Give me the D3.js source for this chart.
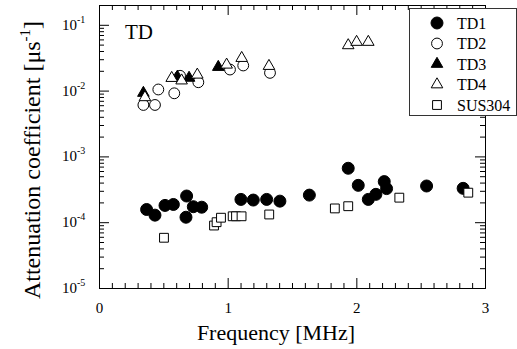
<!DOCTYPE html>
<html>
<head>
<meta charset="utf-8">
<script src="https://cdn.jsdelivr.net/npm/d3@7"></script>
<style>
  body { margin: 0; background: #fff; }
</style>
</head>
<body>
<svg id="chart" width="517" height="349"></svg>
<script>
// frequency [MHz], attenuation coefficient [1/us]
const td1 = [
  [0.37, 1.56e-4], [0.435, 1.28e-4], [0.513, 1.8e-4], [0.578, 1.86e-4],
  [0.681, 2.5e-4], [0.676, 1.19e-4], [0.733, 1.72e-4], [0.798, 1.69e-4],
  [1.103, 2.22e-4], [1.199, 2.17e-4], [1.303, 2.22e-4], [1.406, 2.09e-4],
  [1.635, 2.58e-4], [1.937, 6.6e-4], [2.015, 3.63e-4], [2.093, 2.22e-4],
  [2.152, 2.65e-4], [2.217, 4.14e-4], [2.235, 3.24e-4], [2.546, 3.55e-4],
  [2.83, 3.27e-4]
];
const td2 = [
  [0.345, 6.05e-3], [0.435, 6.05e-3], [0.461, 1.04e-2], [0.585, 9.1e-3],
  [0.63, 1.68e-2], [0.772, 1.34e-2], [1.018, 2.09e-2], [1.121, 2.41e-2],
  [1.329, 1.86e-2]
];
const td3 = [
  [0.345, 9.2e-3], [0.609, 1.62e-2], [0.70, 1.56e-2], [0.927, 2.28e-2]
];
const td4 = [
  [0.357, 7.9e-3], [0.565, 1.55e-2], [0.642, 1.42e-2], [0.764, 1.74e-2],
  [0.992, 2.47e-2], [1.109, 3.12e-2], [1.321, 2.36e-2],
  [1.937, 4.87e-2], [2.002, 5.48e-2], [2.093, 5.48e-2]
];
const sus304 = [
  [0.505, 5.8e-5], [0.894, 8.9e-5], [0.914, 1.0e-4], [0.948, 1.17e-4],
  [1.039, 1.23e-4], [1.065, 1.23e-4], [1.108, 1.23e-4], [1.323, 1.31e-4],
  [1.833, 1.62e-4], [1.937, 1.75e-4], [2.334, 2.36e-4], [2.87, 2.81e-4]
];
const xTicks = [0, 1, 2, 3];
const yExponents = [-5, -4, -3, -2, -1];
const seriesNames = ["TD1", "TD2", "TD3", "TD4", "SUS304"];

const serif = "'Liberation Serif', 'Times New Roman', Times, 'DejaVu Serif', serif";
const svg = d3.select("#chart");
const plotLeft = 99, plotRight = 485, plotTop = 5, plotBottom = 288;

const x = d3.scaleLinear().domain([0, 3]).range([plotLeft, plotRight]);
const y = d3.scaleLog().domain([1e-5, 0.2]).range([plotBottom, plotTop]);

const xMinor = d3.range(1, 30).map((i) => i / 10).filter((v) => Math.abs(v - Math.round(v)) > 1e-6);
const yMinor = [];
yExponents.forEach((e) => {
  for (let m = 2; m <= 9; m++) {
    const v = m * Math.pow(10, e);
    if (v < 0.2) yMinor.push(v);
  }
});

function styleAxis(g) {
  g.selectAll("path").attr("stroke", "#000").attr("stroke-width", 1);
  g.selectAll("line").attr("stroke", "#000").attr("stroke-width", 1);
}

// bottom axis
svg.append("g")
  .attr("transform", `translate(0,${plotBottom})`)
  .call(d3.axisBottom(x).tickValues(xTicks).tickSize(-10).tickSizeOuter(0).tickPadding(14).tickFormat(d3.format("d")))
  .call(styleAxis)
  .call((g) => g.selectAll("text").attr("font-size", 15));
svg.append("g")
  .attr("transform", `translate(0,${plotBottom})`)
  .call(d3.axisBottom(x).tickValues(xMinor).tickSize(-5).tickSizeOuter(0).tickFormat(""))
  .call(styleAxis);

// top axis
svg.append("g")
  .attr("transform", `translate(0,${plotTop})`)
  .call(d3.axisTop(x).tickValues(xTicks).tickSize(-10).tickSizeOuter(0).tickFormat(""))
  .call(styleAxis);
svg.append("g")
  .attr("transform", `translate(0,${plotTop})`)
  .call(d3.axisTop(x).tickValues(xMinor).tickSize(-5).tickSizeOuter(0).tickFormat(""))
  .call(styleAxis);

// left axis
const yMajor = yExponents.map((e) => Math.pow(10, e));
svg.append("g")
  .attr("transform", `translate(${plotLeft},0)`)
  .call(d3.axisLeft(y).tickValues(yMajor).tickSize(-10).tickSizeOuter(0).tickFormat(""))
  .call(styleAxis);
svg.append("g")
  .attr("transform", `translate(${plotLeft},0)`)
  .call(d3.axisLeft(y).tickValues(yMinor).tickSize(-5).tickSizeOuter(0).tickFormat(""))
  .call(styleAxis);

// right axis
svg.append("g")
  .attr("transform", `translate(${plotRight},0)`)
  .call(d3.axisRight(y).tickValues(yMajor).tickSize(-10).tickSizeOuter(0).tickFormat(""))
  .call(styleAxis);
svg.append("g")
  .attr("transform", `translate(${plotRight},0)`)
  .call(d3.axisRight(y).tickValues(yMinor).tickSize(-5).tickSizeOuter(0).tickFormat(""))
  .call(styleAxis);

// y tick labels 10^n
const yLab = svg.append("g").selectAll("text")
  .data(yExponents)
  .enter()
  .append("text")
  .attr("x", 62)
  .attr("y", (d) => y(Math.pow(10, d)) + 5)
  .attr("font-size", 15);
yLab.append("tspan").text("10");
yLab.append("tspan").attr("dy", -7).attr("font-size", 10).text((d) => String(d));

// axis titles
svg.append("text")
  .attr("x", 276)
  .attr("y", 340)
  .attr("text-anchor", "middle")
  .attr("font-size", 22)
  .text("Frequency [MHz]");

const yTitle = svg.append("text")
  .attr("transform", "translate(40,160) rotate(-90)")
  .attr("text-anchor", "middle")
  .attr("font-size", 24);
yTitle.append("tspan").text("Attenuation coefficient [\u03bcs");
yTitle.append("tspan").attr("dy", -10).attr("font-size", 15).text("-1");
yTitle.append("tspan").attr("dy", 10).text("]");

svg.append("text")
  .attr("x", 125)
  .attr("y", 39)
  .attr("font-size", 21)
  .text("TD");

// markers
const circleBig = d3.symbol().type(d3.symbolCircle).size(113);
const circleOpen = d3.symbol().type(d3.symbolCircle).size(92);
const triangle = d3.symbol().type(d3.symbolTriangle).size(58);
const square = d3.symbol().type(d3.symbolSquare).size(78);

const styles = {
  TD1: { path: circleBig(), fill: "#000" },
  TD2: { path: circleOpen(), fill: "#fff" },
  TD3: { path: triangle(), fill: "#000" },
  TD4: { path: triangle(), fill: "#fff" },
  SUS304: { path: square(), fill: "#fff" }
};
const seriesData = { TD1: td1, TD2: td2, TD3: td3, TD4: td4, SUS304: sus304 };

seriesNames.forEach((name) => {
  svg.append("g")
    .selectAll("path")
    .data(seriesData[name])
    .enter()
    .append("path")
    .attr("d", styles[name].path)
    .attr("transform", (d) => `translate(${x(d[0])},${y(d[1])})`)
    .attr("fill", styles[name].fill)
    .attr("stroke", "#000")
    .attr("stroke-width", 1);
});

// legend
const legend = svg.append("g");
legend.append("rect")
  .attr("x", 409.5)
  .attr("y", 8.5)
  .attr("width", 107)
  .attr("height", 107)
  .attr("fill", "#fff")
  .attr("stroke", "#333")
  .attr("stroke-width", 1);
const rows = legend.selectAll("g.row")
  .data(seriesNames)
  .enter()
  .append("g")
  .attr("class", "row")
  .attr("transform", (d, i) => `translate(437,${23 + i * 20.5})`);
rows.append("path")
  .attr("d", (d) => styles[d].path)
  .attr("fill", (d) => styles[d].fill)
  .attr("stroke", "#000")
  .attr("stroke-width", 1);
rows.append("text")
  .attr("x", 20)
  .attr("y", 5.5)
  .attr("font-size", 16)
  .text((d) => d);

// all text in a Times-like serif
svg.selectAll("text").style("font-family", serif).attr("fill", "#000");
</script>
</body>
</html>
